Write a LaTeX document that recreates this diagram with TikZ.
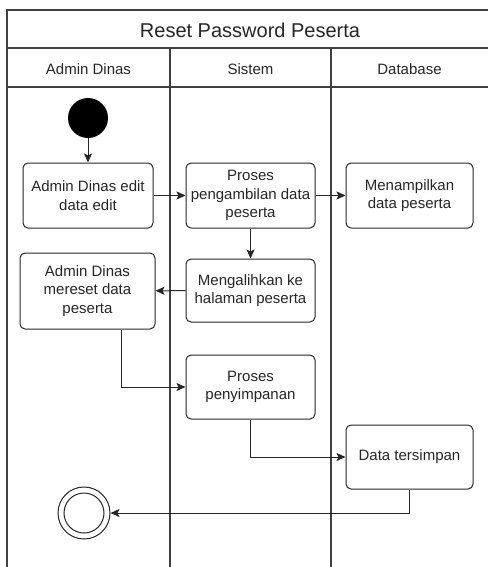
\documentclass[tikz,border=0pt]{standalone}
\usepackage{fontspec}
\setmainfont{Liberation Sans}
\usetikzlibrary{arrows.meta}
\definecolor{ink}{HTML}{262626}
\definecolor{frame}{HTML}{404040}
\tikzset{
  act/.style={draw=ink, line width=1pt, rounded corners=5pt, inner sep=0pt,
    align=center, text=ink, font=\fontsize{15}{18.5}\selectfont},
  flow/.style={draw=ink, line width=1pt, -{Stealth[length=9pt,width=8pt,inset=2pt]}},
  lane/.style={draw=frame, line width=1.1pt},
  head/.style={text=ink, font=\fontsize{15}{18}\selectfont},
}
\begin{document}
\begin{tikzpicture}[x=1pt,y=-1pt]
\useasboundingbox (0,0) rectangle (488,567);
\fill[white] (0,0) rectangle (488,567);
% swimlane frame
\draw[lane] (488,10) -- (7,10) -- (7,567);
\draw[lane] (7,48) -- (488,48);
\draw[lane] (7,87) -- (488,87);
\draw[lane] (170,48) -- (170,567);
\draw[lane] (331,48) -- (331,567);
\node[head, font=\fontsize{20}{23}\selectfont] (title) at (250,30) {Reset Password Peserta};
\node[head] (h1) at (88.5,69) {Admin Dinas};
\node[head] (h2) at (250.5,69) {Sistem};
\node[head] (h3) at (409.5,69) {Database};
% initial node
\node[circle, fill=black, minimum size=40pt, inner sep=0pt] (start) at (88,118) {};
% actions
\node[act, minimum width=130pt, minimum height=65pt] (b1) at (88,195.5) {Admin Dinas edit\\data edit};
\node[act, minimum width=129pt, minimum height=65pt] (b2) at (250.5,195.5) {Proses\\pengambilan data\\peserta};
\node[act, minimum width=127pt, minimum height=65pt] (b3) at (409.5,195.5) {Menampilkan\\data peserta};
\node[act, minimum width=135pt, minimum height=76pt] (b4) at (87.5,291) {Admin Dinas\\mereset data\\peserta};
\node[act, minimum width=129pt, minimum height=63pt] (b5) at (250.5,290.5) {Mengalihkan ke\\halaman peserta};
\node[act, minimum width=129pt, minimum height=64pt] (b6) at (250.5,387) {Proses\\penyimpanan};
\node[act, minimum width=127pt, minimum height=64pt] (b7) at (409.5,457) {Data tersimpan};
% final node
\node[circle, draw=ink, line width=1pt, minimum size=52pt, inner sep=0pt] (end) at (84,513) {};
\node[circle, draw=ink, line width=1pt, minimum size=40pt, inner sep=0pt] (endin) at (end) {};
% control flow
\draw[flow] (start) -- (b1);
\draw[flow] (b1) -- (b2);
\draw[flow] (b2) -- (b3);
\draw[flow] (b2) -- (b5);
\draw[flow] (b5) -- (b4);
\draw[flow] ([xshift=33.5pt]b4.south) |- (b6.west);
\draw[flow] (b6.south) |- (b7.west);
\draw[flow] (b7.south) |- (end.east);
\end{tikzpicture}
\end{document}
